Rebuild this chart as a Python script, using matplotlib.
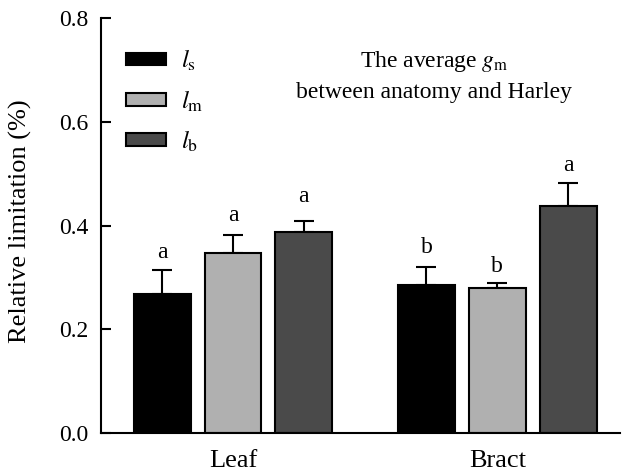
import numpy as np
import matplotlib.pyplot as plt

plt.rcParams['font.family'] = 'Liberation Serif'
plt.rcParams['mathtext.fontset'] = 'stix'

# Data
groups = ['Leaf', 'Bract']
series = ['$l_\\mathrm{s}$', '$l_\\mathrm{m}$', '$l_\\mathrm{b}$']
means = [[0.268, 0.286],   # ls
         [0.347, 0.279],   # lm
         [0.387, 0.437]]   # lb
errs = [[0.047, 0.035],
        [0.035, 0.010],
        [0.021, 0.046]]
letters = [['a', 'b'],
           ['a', 'b'],
           ['a', 'a']]
letter_gap = [[0.023, 0.027],
              [0.027, 0.021],
              [0.038, 0.023]]
colors = ['#000000', '#b0b0b0', '#4a4a4a']

fig = plt.figure(figsize=(6.26, 4.75), dpi=100)
ax = fig.add_axes([0.161, 0.088, 0.829, 0.874])

x = np.arange(len(groups))
w = 0.215
step = 0.268
for i in range(3):
    xi = x + (i - 1) * step
    ax.bar(xi, means[i], width=w, color=colors[i], edgecolor='black',
           linewidth=1.5, label=series[i], zorder=2)
    ax.errorbar(xi, means[i], yerr=[np.zeros(2), errs[i]], fmt='none',
                ecolor='black', elinewidth=1.5, capsize=7.5, capthick=1.5, zorder=1)
    for j in range(2):
        ax.text(xi[j], means[i][j] + errs[i][j] + letter_gap[i][j], letters[i][j],
                ha='center', va='baseline', fontsize=17)

ax.set_xlim(-0.5, 1.463)
ax.set_ylim(0, 0.8)
ax.set_yticks([0.0, 0.2, 0.4, 0.6, 0.8])
ax.set_yticklabels(['0.0', '0.2', '0.4', '0.6', '0.8'])
ax.set_xticks(x)
ax.set_xticklabels(groups)
ax.tick_params(axis='x', length=0, pad=12, labelsize=19)
ax.tick_params(axis='y', direction='in', length=7, width=1.5, labelsize=17, pad=9)
ax.set_ylabel('Relative limitation (%)', fontsize=19)
ax.yaxis.set_label_coords(-0.133, 0.51)
for s in ['top', 'right']:
    ax.spines[s].set_visible(False)
for s in ['left', 'bottom']:
    ax.spines[s].set_linewidth(1.5)

ax.legend(loc='upper left', bbox_to_anchor=(0.015, 0.97), frameon=False,
          fontsize=18, handlelength=1.6, handleheight=0.4, labelspacing=0.6,
          handletextpad=0.6, borderaxespad=0.3)

ax.text(0.642, 0.895, 'The average $g_\\mathrm{m}$', transform=ax.transAxes,
        ha='center', va='center', fontsize=17)
ax.text(0.642, 0.82, 'between anatomy and Harley', transform=ax.transAxes,
        ha='center', va='center', fontsize=17)

fig.savefig('out.png', dpi=100)
